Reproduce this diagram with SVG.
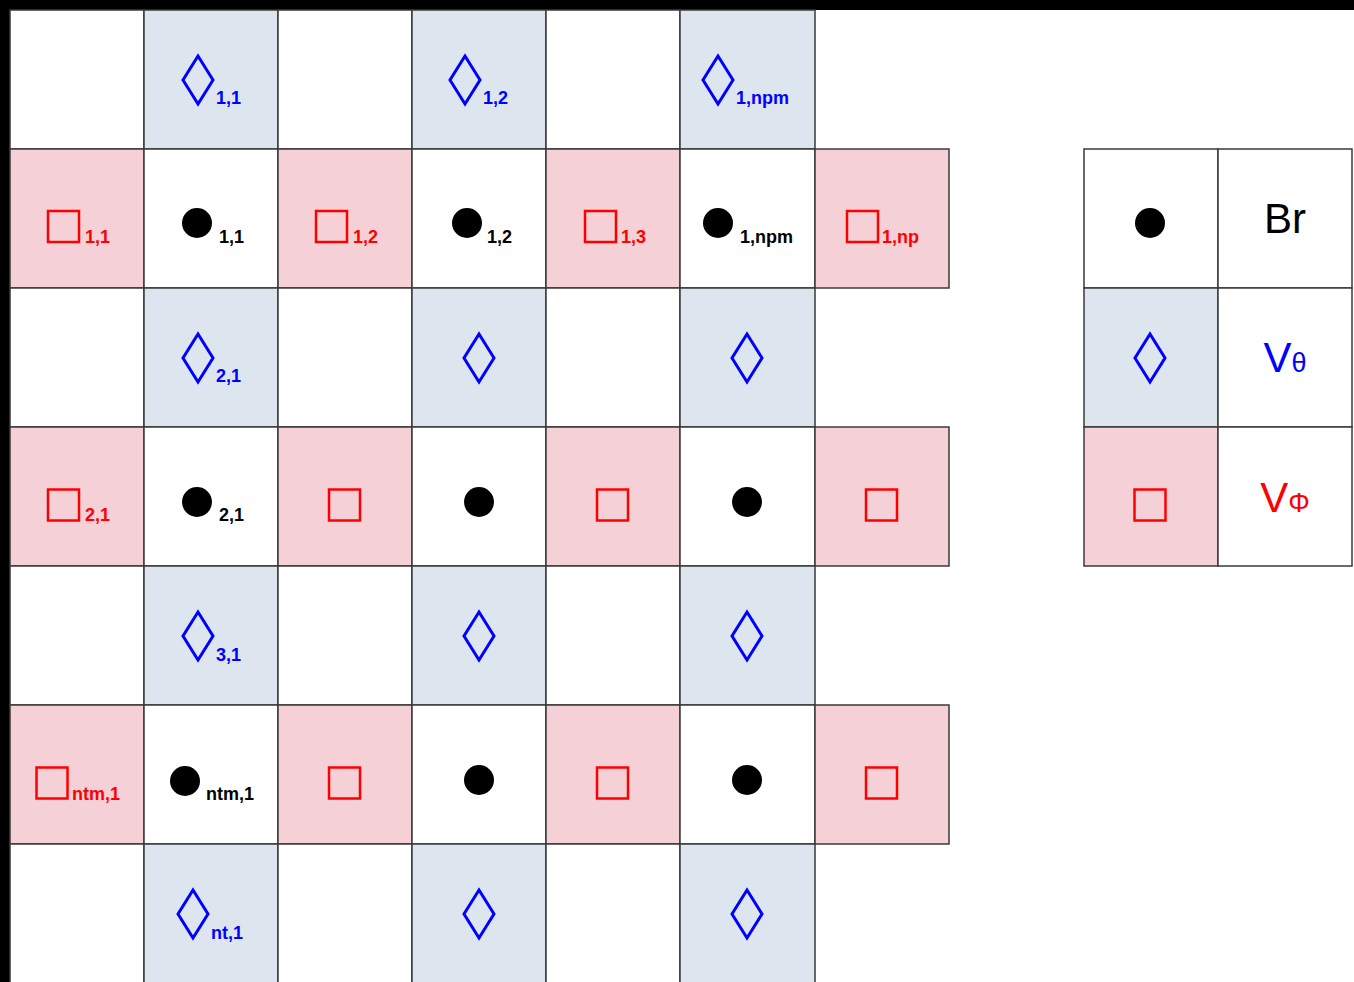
<svg xmlns="http://www.w3.org/2000/svg" width="1354" height="982" viewBox="0 0 1354 982">
<style>
.b{fill:#dde5ef;stroke:#3a3a3a;stroke-width:1.5}
.p{fill:#f5d0d6;stroke:#3a3a3a;stroke-width:1.5}
.w{fill:#ffffff;stroke:#3a3a3a;stroke-width:1.5}
.lb{font-family:"Liberation Sans",Arial,sans-serif;font-weight:bold;font-size:18px}
.cb{fill:#0000ff}.cr{fill:#ff0000}.ck{fill:#000000}
.big{font-family:"Liberation Sans",Arial,sans-serif;font-size:42px}
</style>
<defs>
<path id="dia" d="M0,-24 L15,0 L0,24 L-15,0 Z" fill="none" stroke="#0000ff" stroke-width="3" stroke-linejoin="miter"/>
<rect id="sq" x="-15.5" y="-15.5" width="31" height="31" fill="none" stroke="#ff0000" stroke-width="2.5"/>
<circle id="dot" r="15" fill="#000000"/>
</defs>
<rect x="0" y="0" width="1354" height="982" fill="#000000"/>
<rect x="10" y="10" width="1344" height="972" fill="#ffffff"/>

<g id="connectors"></g>

<!-- Row 0 -->
<g id="r0c0"><rect class="w" x="10" y="10" width="134" height="139"/></g>
<g id="r0c1"><rect class="b" x="144" y="10" width="134" height="139"/><use href="#dia" x="198" y="80"/><text class="lb cb" x="216" y="104">1,1</text></g>
<g id="r0c2"><rect class="w" x="278" y="10" width="134" height="139"/></g>
<g id="r0c3"><rect class="b" x="412" y="10" width="134" height="139"/><use href="#dia" x="465" y="80"/><text class="lb cb" x="483" y="104">1,2</text></g>
<g id="r0c4"><rect class="w" x="546" y="10" width="134" height="139"/></g>
<g id="r0c5"><rect class="b" x="680" y="10" width="135" height="139"/><use href="#dia" x="718" y="80"/><text class="lb cb" x="736" y="104">1,npm</text></g>

<!-- Row 1 -->
<g id="r1c0"><rect class="p" x="10" y="149" width="134" height="139"/><use href="#sq" x="63.5" y="226.5"/><text class="lb cr" x="85" y="243">1,1</text></g>
<g id="r1c1"><rect class="w" x="144" y="149" width="134" height="139"/><use href="#dot" x="197" y="223"/><text class="lb ck" x="219" y="243">1,1</text></g>
<g id="r1c2"><rect class="p" x="278" y="149" width="134" height="139"/><use href="#sq" x="331.5" y="226.5"/><text class="lb cr" x="353" y="243">1,2</text></g>
<g id="r1c3"><rect class="w" x="412" y="149" width="134" height="139"/><use href="#dot" x="467" y="223"/><text class="lb ck" x="487" y="243">1,2</text></g>
<g id="r1c4"><rect class="p" x="546" y="149" width="134" height="139"/><use href="#sq" x="600.5" y="226.5"/><text class="lb cr" x="621" y="243">1,3</text></g>
<g id="r1c5"><rect class="w" x="680" y="149" width="135" height="139"/><use href="#dot" x="718" y="223"/><text class="lb ck" x="740" y="243">1,npm</text></g>
<g id="r1c6"><rect class="p" x="815" y="149" width="134" height="139"/><use href="#sq" x="862.5" y="226.5"/><text class="lb cr" x="882" y="243">1,np</text></g>

<!-- Row 2 -->
<g id="r2c0"><rect class="w" x="10" y="288" width="134" height="139"/></g>
<g id="r2c1"><rect class="b" x="144" y="288" width="134" height="139"/><use href="#dia" x="198" y="358"/><text class="lb cb" x="216" y="382">2,1</text></g>
<g id="r2c2"><rect class="w" x="278" y="288" width="134" height="139"/></g>
<g id="r2c3"><rect class="b" x="412" y="288" width="134" height="139"/><use href="#dia" x="479" y="358"/></g>
<g id="r2c4"><rect class="w" x="546" y="288" width="134" height="139"/></g>
<g id="r2c5"><rect class="b" x="680" y="288" width="135" height="139"/><use href="#dia" x="747" y="358"/></g>

<!-- Row 3 -->
<g id="r3c0"><rect class="p" x="10" y="427" width="134" height="139"/><use href="#sq" x="63.5" y="505"/><text class="lb cr" x="85" y="521">2,1</text></g>
<g id="r3c1"><rect class="w" x="144" y="427" width="134" height="139"/><use href="#dot" x="197" y="502"/><text class="lb ck" x="219" y="521">2,1</text></g>
<g id="r3c2"><rect class="p" x="278" y="427" width="134" height="139"/><use href="#sq" x="344.5" y="505"/></g>
<g id="r3c3"><rect class="w" x="412" y="427" width="134" height="139"/><use href="#dot" x="479" y="502"/></g>
<g id="r3c4"><rect class="p" x="546" y="427" width="134" height="139"/><use href="#sq" x="612.5" y="505"/></g>
<g id="r3c5"><rect class="w" x="680" y="427" width="135" height="139"/><use href="#dot" x="747" y="502"/></g>
<g id="r3c6"><rect class="p" x="815" y="427" width="134" height="139"/><use href="#sq" x="881.5" y="505"/></g>

<!-- Row 4 -->
<g id="r4c0"><rect class="w" x="10" y="566" width="134" height="139"/></g>
<g id="r4c1"><rect class="b" x="144" y="566" width="134" height="139"/><use href="#dia" x="198" y="636"/><text class="lb cb" x="216" y="661">3,1</text></g>
<g id="r4c2"><rect class="w" x="278" y="566" width="134" height="139"/></g>
<g id="r4c3"><rect class="b" x="412" y="566" width="134" height="139"/><use href="#dia" x="479" y="636"/></g>
<g id="r4c4"><rect class="w" x="546" y="566" width="134" height="139"/></g>
<g id="r4c5"><rect class="b" x="680" y="566" width="135" height="139"/><use href="#dia" x="747" y="636"/></g>

<!-- Row 5 -->
<g id="r5c0"><rect class="p" x="10" y="705" width="134" height="139"/><use href="#sq" x="52" y="783"/><text class="lb cr" x="72" y="800">ntm,1</text></g>
<g id="r5c1"><rect class="w" x="144" y="705" width="134" height="139"/><use href="#dot" x="185" y="781"/><text class="lb ck" x="206" y="800">ntm,1</text></g>
<g id="r5c2"><rect class="p" x="278" y="705" width="134" height="139"/><use href="#sq" x="344.5" y="783"/></g>
<g id="r5c3"><rect class="w" x="412" y="705" width="134" height="139"/><use href="#dot" x="479" y="780"/></g>
<g id="r5c4"><rect class="p" x="546" y="705" width="134" height="139"/><use href="#sq" x="612.5" y="783"/></g>
<g id="r5c5"><rect class="w" x="680" y="705" width="135" height="139"/><use href="#dot" x="747" y="780"/></g>
<g id="r5c6"><rect class="p" x="815" y="705" width="134" height="139"/><use href="#sq" x="881.5" y="783"/></g>

<!-- Row 6 -->
<g id="r6c0"><rect class="w" x="10" y="844" width="134" height="140"/></g>
<g id="r6c1"><rect class="b" x="144" y="844" width="134" height="140"/><use href="#dia" x="193" y="914"/><text class="lb cb" x="211" y="939">nt,1</text></g>
<g id="r6c2"><rect class="w" x="278" y="844" width="134" height="140"/></g>
<g id="r6c3"><rect class="b" x="412" y="844" width="134" height="140"/><use href="#dia" x="479" y="914"/></g>
<g id="r6c4"><rect class="w" x="546" y="844" width="134" height="140"/></g>
<g id="r6c5"><rect class="b" x="680" y="844" width="135" height="140"/><use href="#dia" x="747" y="914"/></g>

<!-- Legend -->
<g id="legend-br">
<rect class="w" x="1084" y="149" width="134" height="139"/><use href="#dot" x="1150" y="223"/>
<rect class="w" x="1218" y="149" width="134" height="139"/>
<text class="big" x="1285" y="233" text-anchor="middle" fill="#000000">Br</text>
</g>
<g id="legend-vtheta">
<rect class="b" x="1084" y="288" width="134" height="139"/><use href="#dia" x="1150" y="358"/>
<rect class="w" x="1218" y="288" width="134" height="139"/>
<text class="big" x="1285" y="372" text-anchor="middle" fill="#0000ff">V<tspan font-size="27">θ</tspan></text>
</g>
<g id="legend-vphi">
<rect class="p" x="1084" y="427" width="134" height="139"/><use href="#sq" x="1150" y="505"/>
<rect class="w" x="1218" y="427" width="134" height="139"/>
<text class="big" x="1285" y="512" text-anchor="middle" fill="#ff0000">V<tspan font-size="27">Φ</tspan></text>
</g>
</svg>
